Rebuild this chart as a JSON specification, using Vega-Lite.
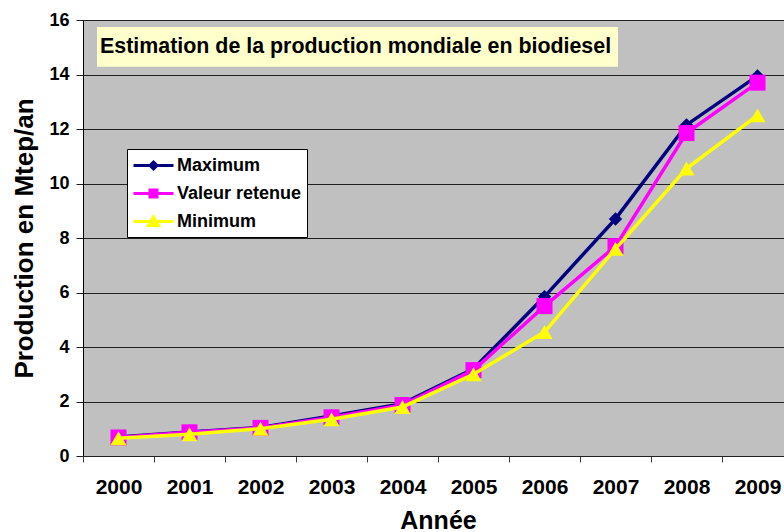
{
  "$schema": "https://vega.github.io/schema/vega-lite/v6.json",
  "autosize": {"type": "none"},
  "padding": {"left": 83, "top": 20, "right": 0, "bottom": 76},
  "width": 710,
  "height": 436,
  "background": "white",
  "config": {
    "font": "Liberation Sans",
    "view": {"fill": "#C0C0C0", "stroke": "#808080", "strokeWidth": 1}
  },
  "datasets": {
    "series": [
      {"year": "2000", "series": "Maximum", "value": 0.7},
      {"year": "2001", "series": "Maximum", "value": 0.88},
      {"year": "2002", "series": "Maximum", "value": 1.05},
      {"year": "2003", "series": "Maximum", "value": 1.47},
      {"year": "2004", "series": "Maximum", "value": 1.92},
      {"year": "2005", "series": "Maximum", "value": 3.2},
      {"year": "2006", "series": "Maximum", "value": 5.85},
      {"year": "2007", "series": "Maximum", "value": 8.7},
      {"year": "2008", "series": "Maximum", "value": 12.15},
      {"year": "2009", "series": "Maximum", "value": 13.95},
      {"year": "2000", "series": "Valeur retenue", "value": 0.68},
      {"year": "2001", "series": "Valeur retenue", "value": 0.87},
      {"year": "2002", "series": "Valeur retenue", "value": 1.03},
      {"year": "2003", "series": "Valeur retenue", "value": 1.42},
      {"year": "2004", "series": "Valeur retenue", "value": 1.87},
      {"year": "2005", "series": "Valeur retenue", "value": 3.15},
      {"year": "2006", "series": "Valeur retenue", "value": 5.5},
      {"year": "2007", "series": "Valeur retenue", "value": 7.7},
      {"year": "2008", "series": "Valeur retenue", "value": 11.85},
      {"year": "2009", "series": "Valeur retenue", "value": 13.7},
      {"year": "2000", "series": "Minimum", "value": 0.65},
      {"year": "2001", "series": "Minimum", "value": 0.8},
      {"year": "2002", "series": "Minimum", "value": 1.0},
      {"year": "2003", "series": "Minimum", "value": 1.35},
      {"year": "2004", "series": "Minimum", "value": 1.8},
      {"year": "2005", "series": "Minimum", "value": 3.0},
      {"year": "2006", "series": "Minimum", "value": 4.55},
      {"year": "2007", "series": "Minimum", "value": 7.6},
      {"year": "2008", "series": "Minimum", "value": 10.55},
      {"year": "2009", "series": "Minimum", "value": 12.5}
    ],
    "heading": [{"label": "Estimation de la production mondiale en biodiesel"}]
  },
  "layer": [
    {
      "data": {"name": "heading"},
      "mark": {"type": "rect", "fill": "#FFFFCC"},
      "encoding": {
        "x": {
          "datum": "2000", "type": "nominal", "bandPosition": 0.197,
          "scale": {"type": "band", "paddingInner": 0, "paddingOuter": 0, "domain": ["2000","2001","2002","2003","2004","2005","2006","2007","2008","2009"]},
          "axis": {
            "title": "Année", "titleFontSize": 25, "titleFontWeight": "bold", "titleColor": "black",
            "titleY": 52, "titleBaseline": "top",
            "labelAngle": 0, "labelFontSize": 21, "labelFontWeight": "bold", "labelColor": "black",
            "labelPadding": 14, "tickBand": "extent", "tickSize": 6, "tickColor": "#404040",
            "domainColor": "#202020", "grid": false
          }
        },
        "x2": {"datum": "2007", "bandPosition": 0.535},
        "y": {
          "datum": 14.28, "type": "quantitative",
          "scale": {"domain": [0, 16], "nice": false},
          "axis": {
            "title": "Production en Mtep/an", "titleFontSize": 26, "titleFontWeight": "bold", "titleColor": "black",
            "titleX": -51, "titleY": 218, "titleAngle": 270, "titleAlign": "center", "titleBaseline": "alphabetic",
            "values": [0, 2, 4, 6, 8, 10, 12, 14, 16],
            "labelFontSize": 18, "labelFontWeight": "bold", "labelColor": "black", "labelPadding": 7,
            "tickSize": 7, "tickColor": "#202020", "domainColor": "#000000",
            "grid": true, "gridColor": "#202020", "gridWidth": 1
          }
        },
        "y2": {"datum": 15.74}
      }
    },
    {
      "data": {"name": "heading"},
      "mark": {"type": "text", "align": "left", "baseline": "middle", "fontSize": 21.4, "fontWeight": "bold", "color": "black"},
      "encoding": {
        "x": {"datum": "2000", "type": "nominal", "bandPosition": 0.24},
        "y": {"datum": 15.0, "type": "quantitative"},
        "text": {"field": "label"}
      }
    },
    {
      "data": {"name": "series"},
      "transform": [{"filter": "datum.series === 'Maximum'"}],
      "mark": {"type": "line", "strokeWidth": 3.5},
      "encoding": {
        "x": {"field": "year", "type": "nominal"},
        "y": {"field": "value", "type": "quantitative"},
        "color": {
          "field": "series", "type": "nominal",
          "scale": {"domain": ["Maximum", "Valeur retenue", "Minimum"], "range": ["#000080", "#FF00FF", "#FFFF00"]},
          "legend": {
            "orient": "none", "legendX": 44, "legendY": 129, "title": null,
            "padding": 5, "fillColor": "white", "strokeColor": "black",
            "labelFontSize": 18, "labelFontWeight": "bold", "labelColor": "black",
            "rowPadding": 7, "symbolSize": 400, "symbolOffset": 10, "labelOffset": 12,
            "symbolStrokeWidth": 3,
            "encode": {
              "symbols": {
                "update": {
                  "shape": {"signal": "datum.value === 'Maximum' ? 'M-2,0H2M0,-0.35L0.35,0L0,0.35L-0.35,0Z' : datum.value === 'Valeur retenue' ? 'M-2,0H2M-0.35,-0.35H0.35V0.35H-0.35Z' : 'M-2,0H2M0,-0.45L0.5,0.4H-0.5Z'"},
                  "fill": {"signal": "scale('color', datum.value)"},
                  "stroke": {"signal": "scale('color', datum.value)"},
                  "strokeWidth": {"value": 3},
                  "size": {"value": 400},
                  "opacity": {"value": 1},
                  "fillOpacity": {"value": 1},
                  "strokeOpacity": {"value": 1}
                }
              }
            }
          }
        }
      }
    },
    {
      "data": {"name": "series"},
      "transform": [{"filter": "datum.series === 'Maximum'"}],
      "mark": {"type": "point", "filled": true, "opacity": 1, "shape": "diamond", "size": 180, "color": "#000080"},
      "encoding": {
        "x": {"field": "year", "type": "nominal"},
        "y": {"field": "value", "type": "quantitative"}
      }
    },
    {
      "data": {"name": "series"},
      "transform": [{"filter": "datum.series === 'Valeur retenue'"}],
      "mark": {"type": "line", "strokeWidth": 3.5},
      "encoding": {
        "x": {"field": "year", "type": "nominal"},
        "y": {"field": "value", "type": "quantitative"},
        "color": {"field": "series", "type": "nominal"}
      }
    },
    {
      "data": {"name": "series"},
      "transform": [{"filter": "datum.series === 'Valeur retenue'"}],
      "mark": {"type": "point", "filled": true, "opacity": 1, "shape": "square", "size": 256, "color": "#FF00FF"},
      "encoding": {
        "x": {"field": "year", "type": "nominal"},
        "y": {"field": "value", "type": "quantitative"}
      }
    },
    {
      "data": {"name": "series"},
      "transform": [{"filter": "datum.series === 'Minimum'"}],
      "mark": {"type": "line", "strokeWidth": 3.5},
      "encoding": {
        "x": {"field": "year", "type": "nominal"},
        "y": {"field": "value", "type": "quantitative"},
        "color": {"field": "series", "type": "nominal"}
      }
    },
    {
      "data": {"name": "series"},
      "transform": [{"filter": "datum.series === 'Minimum'"}],
      "mark": {"type": "point", "filled": true, "opacity": 1, "shape": "triangle-up", "size": 256, "color": "#FFFF00"},
      "encoding": {
        "x": {"field": "year", "type": "nominal"},
        "y": {"field": "value", "type": "quantitative"}
      }
    }
  ]
}
